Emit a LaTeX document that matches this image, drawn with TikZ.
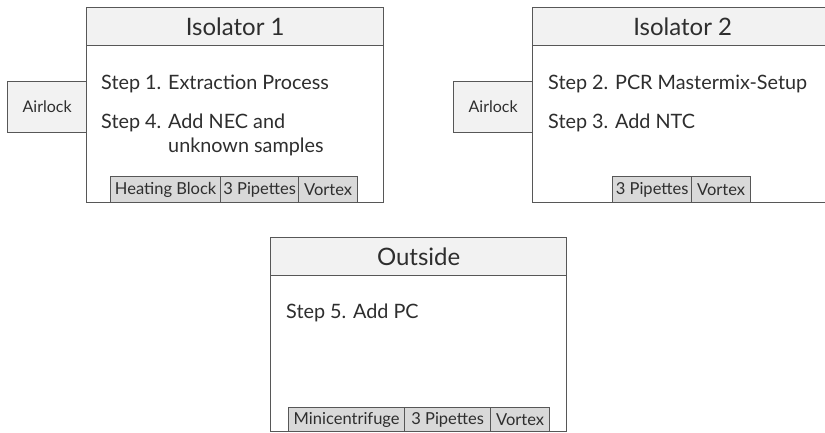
\documentclass[tikz,border=0pt]{standalone}
\usepackage{fontspec}
\setmainfont{Lato}
\definecolor{edge}{HTML}{575757}
\definecolor{headfill}{HTML}{F2F2F2}
\definecolor{eqfill}{HTML}{D9D9D9}
\definecolor{txt}{HTML}{2E2E2E}
\begin{document}
\begin{tikzpicture}[x=1pt,y=-1pt,
  every node/.style={text=txt},
  frame/.style={draw=edge, line width=1.3pt, fill=white, rectangle, inner sep=0pt, anchor=north west},
  head/.style={draw=edge, line width=1.3pt, fill=headfill, rectangle, inner sep=0pt, anchor=north west, font=\fontsize{24}{28}\selectfont},
  lockbox/.style={draw=edge, line width=1.3pt, fill=headfill, rectangle, inner sep=0pt, anchor=north west, minimum width=79pt, minimum height=51pt, font=\fontsize{16}{19}\selectfont},
  equip/.style={draw=edge, line width=1.3pt, fill=eqfill, rectangle, inner sep=0pt, anchor=north west, minimum height=26pt, font=\fontsize{16.5}{19}\selectfont},
  steptext/.style={anchor=base west, inner sep=0pt, font=\fontsize{19.8}{24}\selectfont}
]
\useasboundingbox (0,0) rectangle (825,432);

% ---- Isolator 1 ----
\node[frame, minimum width=297pt, minimum height=195pt] (iso1) at (86,7) {};
\node[head, minimum width=297pt, minimum height=38pt] (iso1h) at (86,7) {Isolator 1};
\node[lockbox] (lock1) at (7,81) {Airlock};
\node[steptext] (s1) at (101,89) {Step 1. Extraction Process};
\node[steptext] (s4) at (101,128) {Step 4.};
\node[steptext] (s4b) at (168,128) {Add NEC and};
\node[steptext] (s4c) at (168,152) {unknown samples};
\node[equip, minimum width=110pt] (hb1) at (110,176) {Heating Block};
\node[equip, minimum width=78pt] (pp1) at (220,176) {3 Pipettes};
\node[equip, minimum width=59pt] (vx1) at (298,176) {Vortex};

% ---- Isolator 2 ----
\node[frame, minimum width=300pt, minimum height=195pt] (iso2) at (532,7) {};
\node[head, minimum width=300pt, minimum height=38pt] (iso2h) at (532,7) {Isolator 2};
\node[lockbox] (lock2) at (453,81) {Airlock};
\node[steptext] (s2) at (548,89) {Step 2. PCR Mastermix-Setup};
\node[steptext] (s3) at (548,128) {Step 3. Add NTC};
\node[equip, minimum width=79pt] (pp2) at (612,176) {3 Pipettes};
\node[equip, minimum width=59pt] (vx2) at (691,176) {Vortex};

% ---- Outside ----
\node[frame, minimum width=296pt, minimum height=194pt] (out) at (270,237) {};
\node[head, minimum width=296pt, minimum height=38pt] (outh) at (270,237) {Outside};
\node[steptext] (s5) at (286,318) {Step 5. Add PC};
\node[equip, minimum width=116pt, minimum height=24pt] (mc3) at (288,407) {Minicentrifuge};
\node[equip, minimum width=86pt, minimum height=24pt] (pp3) at (404,407) {3 Pipettes};
\node[equip, minimum width=59pt, minimum height=24pt] (vx3) at (490,407) {Vortex};
\end{tikzpicture}
\end{document}
